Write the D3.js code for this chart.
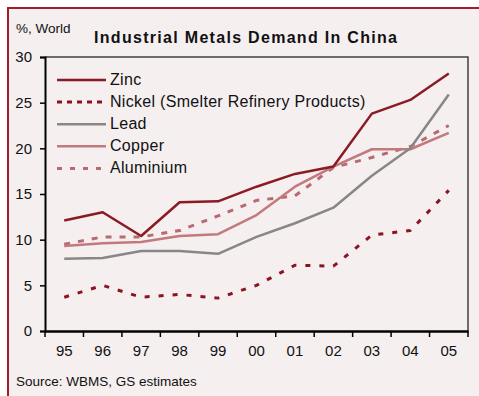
<!DOCTYPE html>
<html><head><meta charset="utf-8">
<script src="https://cdn.jsdelivr.net/npm/d3@7/dist/d3.min.js"></script>
<style>body{margin:0;background:#fff}svg{display:block;font-family:"Liberation Sans",Arial,sans-serif}</style>
</head><body><svg id="c" width="479" height="396"></svg>
<script>
const categories = ["95","96","97","98","99","00","01","02","03","04","05"];
const zinc = [12.1, 13.0, 10.4, 14.1, 14.2, 15.8, 17.2, 18.0, 23.8, 25.3, 28.2];
const nickel = [3.7, 5.0, 3.7, 4.0, 3.6, 5.0, 7.2, 7.1, 10.5, 11.0, 15.4];
const lead = [7.9, 8.0, 8.75, 8.75, 8.45, 10.3, 11.8, 13.5, 17.0, 20.0, 25.9];
const copper = [9.3, 9.6, 9.75, 10.4, 10.6, 12.7, 15.8, 18.0, 19.9, 19.9, 21.7];
const aluminium = [9.5, 10.3, 10.3, 11.0, 12.6, 14.3, 14.8, 17.9, 19.0, 20.2, 22.5];
const yTicks = [0, 5, 10, 15, 20, 25, 30];
const seriesNames = ["Zinc", "Nickel (Smelter Refinery Products)", "Lead", "Copper", "Aluminium"];

const series = [
  {name: seriesNames[0], values: zinc, color: "#8c1a24", width: 2.5, dash: null, legendDash: null},
  {name: seriesNames[1], values: nickel, color: "#8c1420", width: 3, dash: "5,9", legendDash: "5,5"},
  {name: seriesNames[2], values: lead, color: "#878787", width: 2.5, dash: null, legendDash: null},
  {name: seriesNames[3], values: copper, color: "#c27a7e", width: 2.5, dash: null, legendDash: null},
  {name: seriesNames[4], values: aluminium, color: "#b86a70", width: 3, dash: "6,8", legendDash: "5,8"}
];

const svg = d3.select("#c");
svg.append("rect").attr("x", 7).attr("y", 7).attr("width", 472).attr("height", 389).attr("fill", "#f5eff0");
svg.append("line").attr("x1", 7).attr("x2", 479).attr("y1", 8).attr("y2", 8).attr("stroke", "#a01e2c").attr("stroke-width", 2);
svg.append("line").attr("x1", 8).attr("x2", 8).attr("y1", 7).attr("y2", 396).attr("stroke", "#a01e2c").attr("stroke-width", 2);

const L = 45, R = 468, T = 57, B = 331;
const x = d3.scaleBand().domain(categories).range([L, R]).padding(0);
const y = d3.scaleLinear().domain([0, 30]).range([B, T]);

svg.append("path").attr("d", `M${L},${T}H${R}V${B}`).attr("fill", "none").attr("stroke", "#404040").attr("stroke-width", 1.5);

const yAxis = svg.append("g").attr("transform", `translate(${L},0)`)
  .call(d3.axisLeft(y).tickValues(yTicks).tickSize(5).tickPadding(8).tickFormat(d3.format("d")));
yAxis.select(".domain").attr("stroke", "#000").attr("stroke-width", 2);
yAxis.selectAll(".tick line").attr("stroke", "#000").attr("stroke-width", 1.5);
yAxis.selectAll("text").attr("font-size", 15).attr("fill", "#111").attr("font-family", "Liberation Sans, Arial, sans-serif");

const xAxis = svg.append("g").attr("transform", `translate(0,${B})`)
  .call(d3.axisBottom(x).tickSize(0).tickPadding(14));
xAxis.select(".domain").attr("stroke", "#000").attr("stroke-width", 2.5);
xAxis.selectAll("text").attr("font-size", 15).attr("fill", "#111").attr("font-family", "Liberation Sans, Arial, sans-serif");
const edges = categories.map(c => x(c)).concat([R]);
svg.append("g").selectAll("line").data(edges).join("line")
  .attr("x1", d => d).attr("x2", d => d).attr("y1", B).attr("y2", B + 6)
  .attr("stroke", "#000").attr("stroke-width", 1.5);

const line = d3.line().x((d, i) => x(categories[i]) + x.bandwidth() / 2).y(d => y(d));
const drawOrder = [4, 3, 2, 1, 0];
drawOrder.forEach(k => {
  const s = series[k];
  svg.append("path").datum(s.values).attr("d", line)
    .attr("fill", "none").attr("stroke", s.color).attr("stroke-width", s.width)
    .attr("stroke-dasharray", s.dash).attr("stroke-linejoin", "round");
});

const lg = svg.append("g");
series.forEach((s, i) => {
  const ly = 80 + i * 22.1;
  lg.append("line").attr("x1", 57).attr("x2", 106).attr("y1", ly).attr("y2", ly)
    .attr("stroke", s.color).attr("stroke-width", s.width).attr("stroke-dasharray", s.legendDash);
  lg.append("text").attr("x", 110).attr("y", ly + 5).attr("font-size", 16).attr("letter-spacing", 0.3)
    .attr("fill", "#111").text(s.name);
});

svg.append("text").attr("x", 16).attr("y", 33).attr("font-size", 13.5).attr("fill", "#111").text("%, World");
svg.append("text").attr("x", 94).attr("y", 43).attr("font-size", 16).attr("font-weight", "bold")
  .attr("letter-spacing", 1.3).attr("fill", "#111").text("Industrial Metals Demand In China");
svg.append("text").attr("x", 16).attr("y", 386).attr("font-size", 13.5).attr("fill", "#111").text("Source: WBMS, GS estimates");
</script></body></html>
